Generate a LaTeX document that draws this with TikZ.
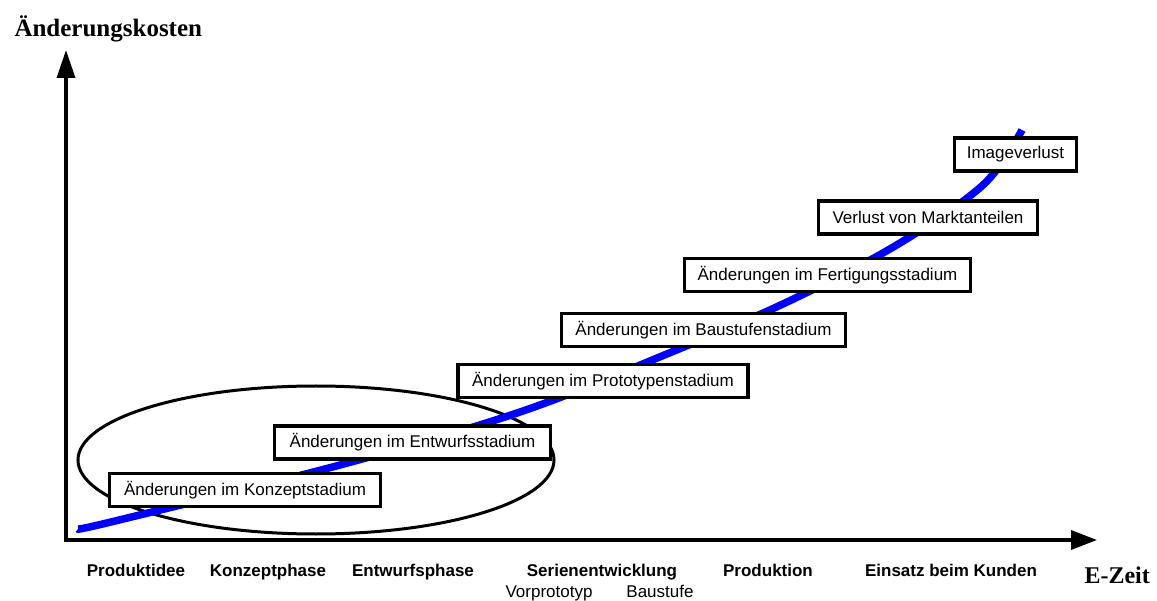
\documentclass[tikz,border=0pt]{standalone}
\usepackage{fontspec}
\setmainfont{Liberation Serif}
\newfontfamily\arialf{Liberation Sans}
\usetikzlibrary{arrows.meta}
\begin{document}
\begin{tikzpicture}[x=1pt,y=-1pt,
  axis/.style={line width=3.5pt, line join=miter,
    {Triangle[length=28pt,width=18pt]}-{Triangle[length=26pt,width=19pt]}},
  stage/.style={draw, line width=3.5pt, fill=white, minimum height=33pt,
    inner sep=0pt, font=\arialf\fontsize{17}{20}\selectfont},
  phase/.style={anchor=base, font=\arialf\bfseries\fontsize{17}{20}\selectfont},
  subphase/.style={anchor=base, font=\arialf\fontsize{17}{20}\selectfont},
  axistitle/.style={anchor=base west, font=\bfseries\fontsize{25}{28}\selectfont},
  cost/.style={line width=7.5pt, blue},
  focus/.style={line width=3pt, black},
]
\useasboundingbox (0,0) rectangle (1157,601);

% axes
\coordinate (O) at (66,540);
\coordinate (Ytip) at (66,50);
\coordinate (Xtip) at (1097,540);
\draw[axis] (Ytip) -- (O) -- (Xtip);

\node[axistitle] (ylabel) at (11,37) {Änderungskosten};
\node[axistitle, font=\bfseries\fontsize{24}{27}\selectfont] (xlabel) at (1081,583) {E-Zeit};

% early phases, where changes are cheap
\draw[focus] (316,460) ellipse [x radius=238, y radius=74];

% cost curve
\draw[cost] plot[smooth, tension=0.55] coordinates
  {(78,529) (115,521) (340,465) (520,412) (662,356) (785,303) (895,246) (983,185) (1022,130)};

% stages along the curve
\node[stage, minimum width=271pt] (s1) at (245,490) {Änderungen im Konzeptstadium};
\node[stage, minimum width=276pt] (s2) at (412.5,442.5) {Änderungen im Entwurfsstadium};
\node[stage, minimum width=290pt] (s3) at (603,381) {Änderungen im Prototypenstadium};
\node[stage, minimum width=284pt] (s4) at (703.5,330) {Änderungen im Baustufenstadium};
\node[stage, minimum width=286pt] (s5) at (827.5,275) {Änderungen im Fertigungsstadium};
\node[stage, minimum width=219pt] (s6) at (928,217.5) {Verlust von Marktanteilen};
\node[stage, minimum width=122pt] (s7) at (1015.5,154.5) {Imageverlust};

% phases on the time axis
\node[phase] (p1) at (136,576) {Produktidee};
\node[phase] (p2) at (268,576) {Konzeptphase};
\node[phase] (p3) at (413,576) {Entwurfsphase};
\node[phase] (p4) at (602,576) {Serienentwicklung};
\node[phase] (p5) at (768,576) {Produktion};
\node[phase] (p6) at (951,576) {Einsatz beim Kunden};
\node[subphase] (q1) at (549,597) {Vorprototyp};
\node[subphase] (q2) at (660,597) {Baustufe};
\end{tikzpicture}
\end{document}
